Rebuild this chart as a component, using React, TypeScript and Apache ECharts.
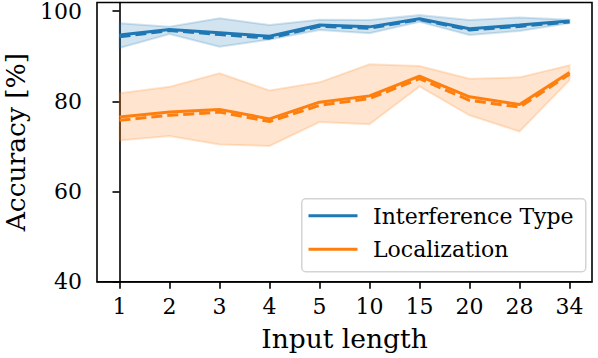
import React, { useEffect, useRef } from "react";
import * as echarts from "echarts";

const xLabels = ["1", "2", "3", "4", "5", "10", "15", "20", "28", "34"];
const yTicks = [40, 60, 80, 100];

const interfSolid = [94.7, 95.9, 95.2, 94.4, 96.9, 96.5, 98.3, 96.1, 96.9, 97.8];
const interfDashed = [94.3, 95.7, 94.8, 94.0, 96.6, 96.2, 98.1, 95.8, 96.6, 97.6];
const interfUpper = [97.3, 96.5, 98.4, 96.9, 98.1, 98.0, 99.1, 98.0, 98.6, 98.1];
const interfLower = [91.8, 94.9, 92.1, 93.7, 95.8, 95.1, 97.6, 94.7, 95.6, 97.3];

const locSolid = [76.5, 77.6, 78.2, 76.1, 79.8, 81.2, 85.6, 81.0, 79.3, 86.4];
const locDashed = [75.8, 76.9, 77.6, 75.5, 79.1, 80.6, 85.0, 80.2, 78.7, 86.0];
const locUpper = [81.8, 83.2, 86.2, 82.4, 84.2, 88.2, 87.8, 85.0, 85.3, 88.0];
const locLower = [71.3, 72.3, 70.4, 70.1, 75.4, 74.9, 83.3, 76.9, 73.3, 84.7];

const BLUE = "#1f77b4";
const ORANGE = "#ff7f0e";
const FONT = "DejaVu Serif";

function pairs(arr: number[]) {
  return arr.map((v, i) => [i, v]);
}

function bandSeries(name: string, upper: number[], lower: number[], rgb: string) {
  return {
    type: "custom",
    name,
    silent: true,
    z: 1,
    data: upper.map((u, i) => [i, u, lower[i]]),
    renderItem: (params: any, api: any) => {
      if (params.dataIndex !== 0) return { type: "group", children: [] };
      const pts: number[][] = [];
      for (let i = 0; i < upper.length; i++) pts.push(api.coord([i, upper[i]]));
      for (let i = lower.length - 1; i >= 0; i--) pts.push(api.coord([i, lower[i]]));
      return {
        type: "polygon",
        shape: { points: pts },
        style: {
          fill: `rgba(${rgb},0.2)`,
          stroke: `rgba(${rgb},0.2)`,
          lineWidth: 2,
        },
      };
    },
  };
}

function lineSeries(name: string, data: number[], color: string, dashed: boolean) {
  return {
    type: "line",
    name,
    data: pairs(data),
    showSymbol: false,
    symbol: "none",
    z: 3,
    lineStyle: {
      color,
      width: 3,
      type: dashed ? [11, 5] : "solid",
      cap: "butt",
    },
    itemStyle: { color },
  };
}

export default function App() {
  const ref = useRef<HTMLDivElement>(null);
  useEffect(() => {
    if (!ref.current) return;
    const chart = echarts.init(ref.current, undefined, { renderer: "svg" });
    const legendLeft = 301;
    const legendTop = 198;
    chart.setOption({
      animation: false,
      backgroundColor: "#ffffff",
      grid: {
        left: 97,
        right: 6,
        top: 2.5,
        bottom: 76.3,
        containLabel: false,
        outerBoundsMode: "none",
        show: true,
        borderColor: "#000",
        borderWidth: 1.6,
        backgroundColor: "transparent",
      },
      xAxis: {
        type: "value",
        min: -0.45,
        max: 9.45,
        name: "Input length",
        nameLocation: "middle",
        nameGap: 43,
        nameTextStyle: { fontFamily: FONT, fontSize: 26.5, color: "#000" },
        axisLine: { show: true, lineStyle: { color: "#000", width: 1.6 } },
        axisTick: {
          show: true,
          length: 7,
          lineStyle: { color: "#000", width: 1.6 },
          customValues: xLabels.map((_, i) => i),
        },
        axisLabel: {
          fontFamily: FONT,
          fontSize: 22,
          color: "#000",
          margin: 14,
          customValues: xLabels.map((_, i) => i),
          formatter: (v: number) => xLabels[Math.round(v)] ?? "",
        },
        splitLine: { show: false },
      },
      yAxis: {
        type: "value",
        min: 40,
        max: 101.9,
        name: "Accuracy [%]",
        nameLocation: "middle",
        nameGap: 67,
        nameRotate: 90,
        nameTextStyle: { fontFamily: FONT, fontSize: 26.5, color: "#000" },
        axisLine: { show: true, lineStyle: { color: "#000", width: 1.6 } },
        axisTick: {
          show: true,
          length: 7,
          lineStyle: { color: "#000", width: 1.6 },
          customValues: yTicks,
        },
        axisLabel: {
          fontFamily: FONT,
          fontSize: 22,
          color: "#000",
          margin: 15,
          customValues: yTicks,
        },
        splitLine: { show: false },
      },
      series: [
        bandSeries("Interference Type band", interfUpper, interfLower, "31,119,180"),
        bandSeries("Localization band", locUpper, locLower, "255,127,14"),
        lineSeries("Interference Type", interfSolid, BLUE, false),
        lineSeries("Interference Type (dashed)", interfDashed, BLUE, true),
        lineSeries("Localization", locSolid, ORANGE, false),
        lineSeries("Localization (dashed)", locDashed, ORANGE, true),
      ],
      graphic: [
        {
          type: "rect",
          left: legendLeft,
          top: legendTop,
          z: 100,
          shape: { width: 284, height: 73, r: 4 },
          style: { fill: "rgba(255,255,255,0.8)", stroke: "#d4d4d4", lineWidth: 1.5 },
        },
        {
          type: "line",
          z: 101,
          shape: { x1: 308.5, y1: 215.7, x2: 357.5, y2: 215.7 },
          style: { stroke: BLUE, lineWidth: 3 },
        },
        {
          type: "line",
          z: 101,
          shape: { x1: 308.5, y1: 249.3, x2: 357.5, y2: 249.3 },
          style: { stroke: ORANGE, lineWidth: 3 },
        },
        {
          type: "text",
          z: 101,
          x: 373,
          y: 216,
          style: {
            text: "Interference Type",
            fontFamily: FONT,
            fontSize: 22,
            fill: "#000",
            verticalAlign: "middle",
            align: "left",
          },
        },
        {
          type: "text",
          z: 101,
          x: 373,
          y: 249.5,
          style: {
            text: "Localization",
            fontFamily: FONT,
            fontSize: 22,
            fill: "#000",
            verticalAlign: "middle",
            align: "left",
          },
        },
      ],
    });
    return () => chart.dispose();
  }, []);
  return (
    <div
      ref={ref}
      style={{ position: "fixed", left: 0, top: 0, width: 598, height: 358 }}
    />
  );
}
